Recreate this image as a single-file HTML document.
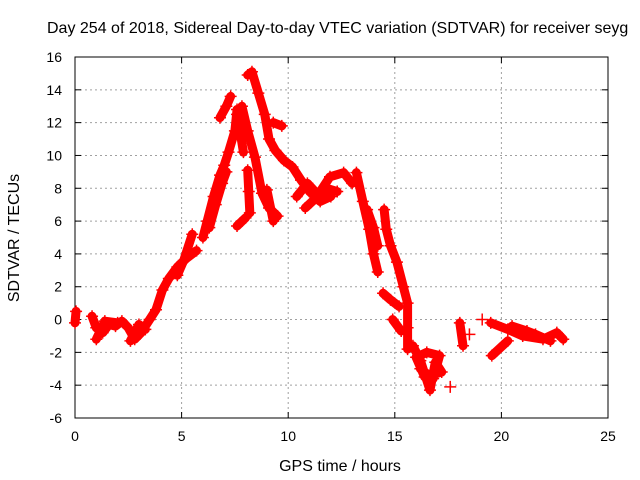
<!DOCTYPE html>
<html><head><meta charset="utf-8"><style>
html,body{margin:0;padding:0;background:#fff;}
svg{display:block;font-family:"Liberation Sans",sans-serif;}
</style></head><body>
<svg id="chart" width="640" height="480" viewBox="0 0 640 480">
<rect width="640" height="480" fill="#fff"/>
<text x="47" y="33" font-size="16" fill="#000">Day 254 of 2018, Sidereal Day-to-day VTEC variation (SDTVAR) for receiver seyg</text>
<g id="grid"></g>
<g id="axes"></g>
<g id="series"></g>
<text x="340" y="471" font-size="16" text-anchor="middle">GPS time / hours</text>
<text transform="translate(19,238) rotate(-90)" font-size="16" text-anchor="middle">SDTVAR / TECUs</text>
</svg>
<script>
const xTicks=[0,5,10,15,20,25];
const yTicks=[-6,-4,-2,0,2,4,6,8,10,12,14,16];
const tracks=[
 [[0,-0.2],[0.05,0.5]],
 [[0.8,0.2],[1,-0.5],[1.3,-0.8],[1.6,-0.3],[1.9,-0.4],[2.2,-0.1],[2.5,-0.5],[2.8,-1.2],[3.1,-0.8],[3.5,0],[3.8,0.6],[4.1,1.8],[4.4,2.5],[4.8,3.2],[5.2,3.7],[5.7,4.2]],
 [[1.0,-1.2],[1.4,-0.1],[2.0,-0.2]],
 [[2.6,-1.3],[3.0,-0.3],[3.3,-0.6]],
 [[4.8,2.7],[5.1,3.6],[5.5,5.2]],
 [[6.0,5.0],[6.2,6.0],[6.5,7.5],[6.8,8.8],[7.0,9.4],[7.2,10.2],[7.5,11.5],[7.6,12.8]],
 [[6.3,5.6],[6.6,7.0],[6.9,8.3],[7.1,9.0]],
 [[6.8,12.3],[7.1,13],[7.3,13.6]],
 [[8.1,14.9],[8.3,15.1],[8.6,13.8],[8.9,12.5],[9.1,11],[9.4,10.3],[9.8,9.7],[10.2,9.3],[10.6,8.5],[11.0,7.8],[11.5,7.2],[12,7.5]],
 [[9.3,12],[9.7,11.8]],
 [[7.83,13],[8.1,11.5],[8.44,9.9],[8.77,7.7],[9.1,6.8],[9.5,6.3]],
 [[7.6,12.5],[7.8,11.0],[7.9,10.2]],
 [[8.1,9.1],[8.15,7.8],[8.2,6.5]],
 [[7.6,5.7],[8.0,6.2]],
 [[9.0,7.9],[9.3,6.0]],
 [[10.4,7.5],[10.9,8.3],[11.4,7.6],[11.96,8.7],[12.6,8.95],[13.0,8.3]],
 [[10.8,6.8],[11.3,7.4],[11.8,8.0],[12.3,7.8]],
 [[13.2,8.95],[13.5,7.2],[13.8,5.5],[14.0,4.0],[14.2,2.9]],
 [[13.7,6.7],[14.0,5.6],[14.2,4.5]],
 [[14.5,6.7],[14.6,5.5],[14.8,4.5],[15.1,3.5],[15.4,2.0],[15.6,1.0],[15.6,-0.5],[15.6,-1.8]],
 [[14.45,1.6],[14.8,1.2],[15.2,0.8]],
 [[14.9,0],[15.3,-0.7]],
 [[15.85,-1.6],[16.2,-2.5],[16.65,-4.3],[16.9,-2.6],[17.2,-3.2],[16.4,-3.5],[16.0,-2.3],[16.5,-2.0],[17.1,-2.2],[16.8,-3.6],[16.2,-3.0]],
 [[17.6,-4.1]],
 [[18.05,-0.2],[18.2,-1.6]],
 [[18.5,-0.9]],
 [[19.1,0]],
 [[19.5,-0.2],[20.3,-0.6],[21,-1.0],[21.95,-1.2],[22.6,-0.8],[22.9,-1.2]],
 [[20.5,-0.4],[21.2,-0.7],[21.6,-0.9],[22.3,-1.3]],
 [[19.55,-2.2],[20.3,-1.3]]
];
const NS='http://www.w3.org/2000/svg';
const X0=75,X1=608,Y0=418,Y1=57;
const sx=v=>X0+(v-0)/(25-0)*(X1-X0);
const sy=v=>Y0-(v-(-6))/(16-(-6))*(Y0-Y1);
const grid=document.getElementById('grid'),axes=document.getElementById('axes'),ser=document.getElementById('series');
function mk(tag,at,parent){const e=document.createElementNS(NS,tag);for(const k in at)e.setAttribute(k,at[k]);parent.appendChild(e);return e;}
xTicks.forEach(t=>{const x=sx(t);
 if(t>0&&t<25){const l=mk('line',{x1:x,x2:x,y1:Y1,y2:Y0,stroke:'#a0a0a0','stroke-dasharray':'2,3'},grid);
 
 }
 const tx=mk('text',{x:x,y:Y0+23,'font-size':14,'text-anchor':'middle'},axes);tx.textContent=t;
 
 
 mk('line',{x1:x,x2:x,y1:Y0,y2:Y0-6,stroke:'#000'},axes);mk('line',{x1:x,x2:x,y1:Y1,y2:Y1+6,stroke:'#000'},axes);
});
yTicks.forEach(t=>{const y=sy(t);
 if(t>-6&&t<16){const l=mk('line',{x1:X0,x2:X1,y1:y,y2:y,stroke:'#a0a0a0','stroke-dasharray':'2,3'},grid);
 
 }
 const tx=mk('text',{x:X0-13,y:y+5,'font-size':14,'text-anchor':'end'},axes);tx.textContent=t;
 
 
 mk('line',{x1:X0,x2:X0+6,y1:y,y2:y,stroke:'#000'},axes);mk('line',{x1:X1,x2:X1-6,y1:y,y2:y,stroke:'#000'},axes);
});
const frame=mk('rect',{x:X0,y:Y1,width:X1-X0,height:Y0-Y1,fill:'none',stroke:'#000'},axes);


tracks.forEach(tr=>{
 const pl=mk('polyline',{points:tr.map(p=>sx(p[0])+','+sy(p[1])).join(' '),fill:'none',stroke:'#f00','stroke-width':9,'stroke-linejoin':'round','stroke-linecap':'round'},ser);
 
 
 tr.forEach(p=>{const x=sx(p[0]),y=sy(p[1]);
  const m=mk('path',{d:`M${x-6},${y}h12M${x},${y-6}v12`,stroke:'#f00','stroke-width':1.5},ser);
  
  
 });
});
</script>
</body></html>
